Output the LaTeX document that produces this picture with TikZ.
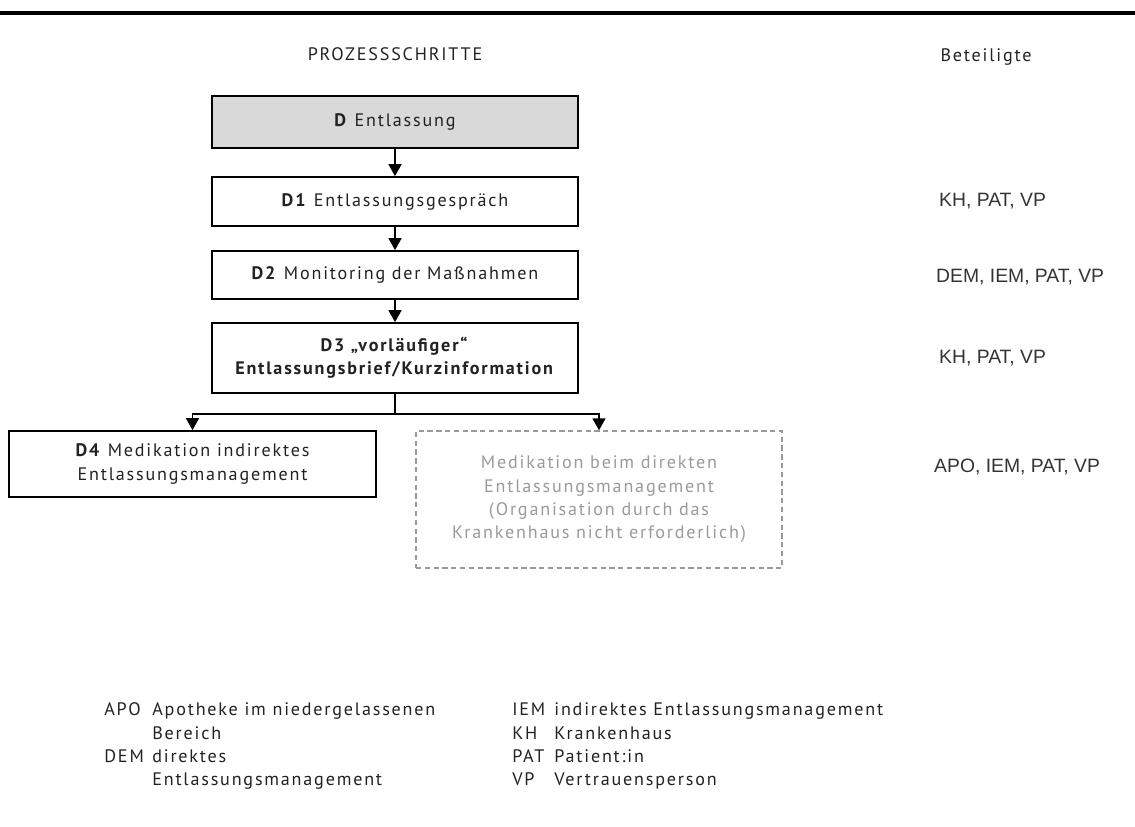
\documentclass[tikz,border=0pt]{standalone}
\usepackage{fontspec}
\setmainfont{PT Sans}[LetterSpace=10]
\newfontfamily\arialfont{Liberation Sans}
\usetikzlibrary{arrows.meta}
\definecolor{boxgrey}{HTML}{D9D9D9}
\definecolor{ghost}{HTML}{9A9A9A}
\definecolor{ink}{HTML}{222222}

\begin{document}
\begin{tikzpicture}[x=0.02cm,y=-0.02cm,
    font=\fontsize{10.3}{13.3}\selectfont,text=ink,
    box/.style={draw,line width=1pt,minimum width=7.32cm,align=center,inner sep=2pt},
    arr/.style={-{Triangle[length=2.4mm,width=2.6mm]},line width=0.9pt},
    who/.style={anchor=west,font=\arialfont\fontsize{11}{13}\selectfont,text=black!80},
    legend/.style={anchor=north west,inner sep=0pt,align=left}]
  \useasboundingbox (0,0) rectangle (1135,827);
  \draw[line width=2.2pt] (0,13) -- (1135,13);
  % Spaltenkoepfe
  \node (head) at (395,54) {PROZESSSCHRITTE};
  \node (beteil) at (986,57) {Beteiligte};
  % Prozessschritte
  \node[box,fill=boxgrey,minimum height=1.04cm] (d) at (395,122) {\textbf{D} Entlassung};
  \node[box,minimum height=0.98cm] (d1) at (395,201.5) {\textbf{D1} Entlassungsgespräch};
  \node[box,minimum height=0.96cm] (d2) at (395,275) {\textbf{D2} Monitoring der Maßnahmen};
  \node[box,minimum height=1.4cm] (d3) at (395,358) {\textbf{D3 „vorläufiger“}\\\textbf{Entlassungsbrief/Kurzinformation}};
  \node[box,minimum height=1.32cm,minimum width=7.34cm] (d4) at (192.5,464) {\textbf{D4} Medikation indirektes\\Entlassungsmanagement};
  \node[box,draw=ghost,line width=0.8pt,dash pattern=on 3pt off 2pt,text=ghost,minimum height=2.74cm] (dem) at (599,499.5)
    {Medikation beim direkten\\Entlassungsmanagement\\(Organisation durch das\\Krankenhaus nicht erforderlich)};
  \coordinate (split) at (395,414);
  \draw[arr] (d) -- (d1);
  \draw[arr] (d1) -- (d2);
  \draw[arr] (d2) -- (d3);
  \draw[line width=0.9pt] (d3) -- (split);
  \draw[arr] (split) -| (d4.north);
  \draw[arr] (split) -| (dem.north);
  % Beteiligte
  \node[who] (w1) at (933,201) {KH, PAT, VP};
  \node[who] (w2) at (930,277) {DEM, IEM, PAT, VP};
  \node[who] (w3) at (933,358) {KH, PAT, VP};
  \node[who] (w4) at (928,467) {APO, IEM, PAT, VP};
  % Abkuerzungen
  \node[legend] (leg1) at (104,699) {\begin{tabular}{@{}p{0.96cm}@{}l@{}}
    APO & Apotheke im niedergelassenen\\ & Bereich\\
    DEM & direktes\\ & Entlassungsmanagement\end{tabular}};
  \node[legend] (leg2) at (512,699) {\begin{tabular}{@{}p{0.84cm}@{}l@{}}
    IEM & indirektes Entlassungsmanagement\\ KH & Krankenhaus\\
    PAT & Patient:in\\ VP & Vertrauensperson\end{tabular}};
\end{tikzpicture}
\end{document}
